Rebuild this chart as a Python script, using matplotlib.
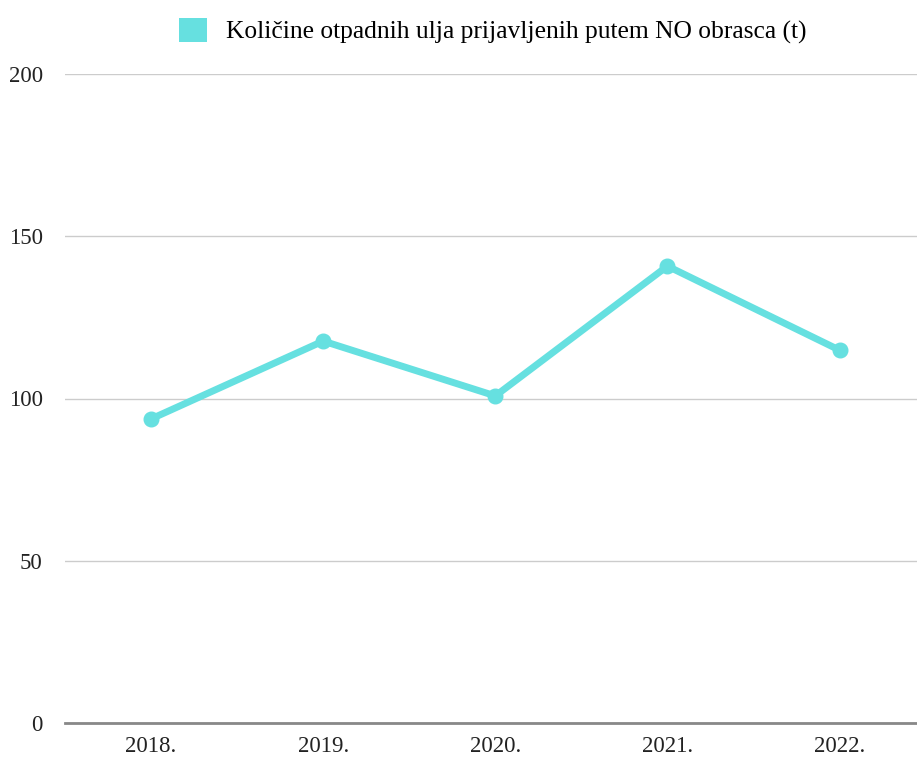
import matplotlib.pyplot as plt
from matplotlib.patches import Patch

years = ['2018.', '2019.', '2020.', '2021.', '2022.']
values = [93.7, 117.7, 100.8, 140.8, 114.9]
label = 'Količine otpadnih ulja prijavljenih putem NO obrasca (t)'
color = '#66E0E0'

plt.rcParams['font.family'] = ['Liberation Serif', 'DejaVu Serif']

fig = plt.figure(figsize=(9.17, 7.58), dpi=100)
ax = fig.add_axes([65 / 917, 35 / 758, 1 - 65 / 917, 649 / 758])

x = range(len(years))
ax.plot(x, values, color=color, lw=5, marker='o', markersize=10.5,
        solid_capstyle='round', zorder=3)

ax.set_xlim(-0.5, 4.45)
ax.set_ylim(0, 200)
ax.set_yticks([0, 50, 100, 150, 200])
ax.set_xticks(list(x))
ax.set_xticklabels(years)
ax.tick_params(axis='both', length=0, labelsize=16.5, colors='#222222')
ax.tick_params(axis='y', pad=16)
ax.tick_params(axis='x', pad=9)
ax.grid(axis='y', color='#cccccc', lw=1)
ax.set_axisbelow(True)
for s in ['top', 'right', 'left']:
    ax.spines[s].set_visible(False)
ax.spines['bottom'].set_color('#888888')
ax.spines['bottom'].set_linewidth(2)

handle = Patch(facecolor=color, edgecolor='none')
fig.legend([handle], [label], loc='center', bbox_to_anchor=(0.537, 0.959),
           frameon=False, fontsize=18.4, handlelength=1.1, handleheight=1.1,
           handletextpad=0.75)

fig.savefig('out.png', dpi=100)
